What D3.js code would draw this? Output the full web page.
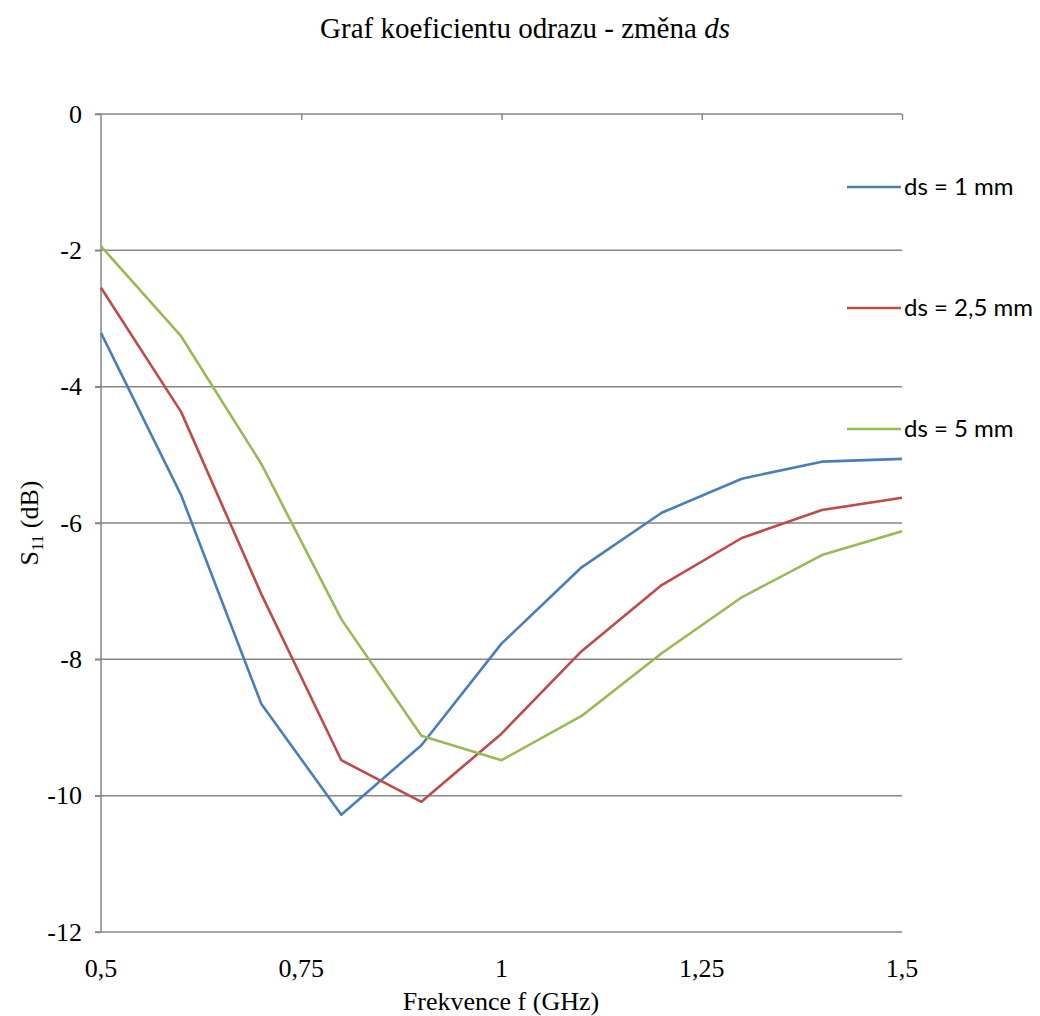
<!DOCTYPE html>
<html>
<head>
<meta charset="utf-8">
<script src="https://cdn.jsdelivr.net/npm/d3@7"></script>
<style>
  body { margin: 0; background: #fff; }
  .serif { font-family: "Liberation Serif", "Times New Roman", "DejaVu Serif", serif; }
</style>
</head>
<body>
<div id="chart"></div>
<script>
// frequencies (GHz)
const freq = [0.5, 0.6, 0.7, 0.8, 0.9, 1.0, 1.1, 1.2, 1.3, 1.4, 1.5];
// S11 (dB) per ds
const ds1 = [-3.21, -5.59, -8.65, -10.28, -9.26, -7.77, -6.65, -5.85, -5.35, -5.10, -5.06];
const ds25 = [-2.55, -4.37, -7.04, -9.48, -10.09, -9.09, -7.88, -6.91, -6.22, -5.81, -5.63];
const ds5 = [-1.94, -3.26, -5.13, -7.41, -9.12, -9.48, -8.83, -7.91, -7.09, -6.47, -6.12];
const seriesNames = ["ds = 1 mm", "ds = 2,5 mm", "ds = 5 mm"];
const colors = ["#4a7ebb", "#be4b48", "#98b954"];
const xTicks = [0.5, 0.75, 1, 1.25, 1.5];
const yTicks = [0, -2, -4, -6, -8, -10, -12];

const W = 1040, H = 1016;
const svg = d3.select("#chart").append("svg")
    .attr("width", W)
    .attr("height", H);

const x = d3.scaleLinear().domain([0.5, 1.5]).range([101, 902]);
const y = d3.scaleLinear().domain([-12, 0]).range([932, 114]);
const fmt = d => String(d).replace(".", ",");
const FS = 26;

// title
svg.append("text")
    .attr("class", "serif")
    .attr("x", 525)
    .attr("y", 38)
    .attr("text-anchor", "middle")
    .attr("font-size", 29)
    .text("Graf koeficientu odrazu - změna ")
    .append("tspan")
    .attr("font-style", "italic")
    .text("ds");

// horizontal gridlines
svg.append("g")
    .selectAll("line")
    .data(yTicks.filter(d => d !== 0))
    .enter()
    .append("line")
    .attr("x1", 95)
    .attr("x2", x(1.5))
    .attr("y1", d => y(d))
    .attr("y2", d => y(d))
    .attr("stroke", "#868686")
    .attr("stroke-width", 1.5);

// y axis (ticks on left, labels)
const yAxis = svg.append("g")
    .attr("transform", `translate(${x(0.5)},0)`)
    .attr("font-family", null)
    .call(d3.axisLeft(y).tickValues(yTicks).tickSize(6).tickPadding(13).tickFormat(d => d));
yAxis.attr("font-family", null).attr("font-size", null);
yAxis.select(".domain").attr("stroke", "#868686").attr("stroke-width", 1.5).attr("d", `M0,${y(0)}V${y(-12)}`);
yAxis.selectAll(".tick line").attr("stroke", "#868686").attr("stroke-width", 1.5);
yAxis.selectAll(".tick text")
    .attr("class", "serif")
    .attr("font-size", FS)
    .attr("fill", "#000");

// x axis line at y = 0 with ticks pointing down
const xAxis = svg.append("g")
    .attr("transform", `translate(0,${y(0)})`)
    .call(d3.axisBottom(x).tickValues(xTicks).tickSize(6).tickFormat(""));
xAxis.select(".domain").attr("stroke", "#868686").attr("stroke-width", 1.5).attr("d", `M95,0H${x(1.5)}`);
xAxis.selectAll(".tick line").attr("stroke", "#868686").attr("stroke-width", 1.5);
xAxis.selectAll(".tick").filter(d => d === 0.5).select("line").remove();

// x tick labels at the bottom
svg.append("g")
    .selectAll("text")
    .data(xTicks)
    .enter()
    .append("text")
    .attr("class", "serif")
    .attr("x", d => x(d))
    .attr("y", 977)
    .attr("text-anchor", "middle")
    .attr("font-size", FS)
    .text(fmt);

// axis titles
svg.append("text")
    .attr("class", "serif")
    .attr("x", 501)
    .attr("y", 1010)
    .attr("text-anchor", "middle")
    .attr("font-size", FS)
    .text("Frekvence f (GHz)");

const yt = svg.append("text")
    .attr("class", "serif")
    .attr("transform", "translate(38,523) rotate(-90)")
    .attr("text-anchor", "middle")
    .attr("font-size", FS);
yt.append("tspan").text("S");
yt.append("tspan").attr("font-size", 17).attr("dy", 5).text("11");
yt.append("tspan").attr("dy", -5).text(" (dB)");

// lines
const series = [ds1, ds25, ds5];
const line = d3.line()
    .x((d, i) => x(freq[i]))
    .y(d => y(d));

svg.append("g")
    .selectAll("path")
    .data(series)
    .enter()
    .append("path")
    .attr("d", d => line(d))
    .attr("fill", "none")
    .attr("stroke", (d, i) => colors[i])
    .attr("stroke-width", 2.6)
    .attr("stroke-linejoin", "round");

// legend
const leg = svg.append("g")
    .selectAll("g")
    .data(seriesNames)
    .enter()
    .append("g")
    .attr("transform", (d, i) => `translate(847,${187 + i * 121})`);
leg.append("line")
    .attr("x1", 0)
    .attr("x2", 54)
    .attr("stroke", (d, i) => colors[i])
    .attr("stroke-width", 2.6);
leg.append("text")
    .attr("x", 57)
    .attr("y", 8)
    .attr("font-family", "Lato")
    .attr("font-size", 24)
    .text(d => d);
</script>
</body>
</html>
